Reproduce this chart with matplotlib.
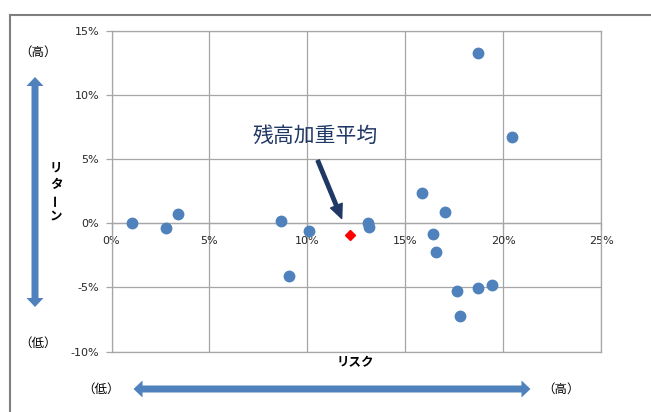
import numpy as np
import matplotlib
matplotlib.use("Agg")
import matplotlib.pyplot as plt
from matplotlib.patches import Polygon, FancyArrowPatch
from matplotlib.lines import Line2D
from matplotlib.ticker import FuncFormatter

plt.rcParams["font.family"] = ["DejaVu Sans", "Noto Sans CJK JP"]

# ---------------------------------------------------------------------
# DATA (%): リスク × リターン
# ---------------------------------------------------------------------
risk = [1.03, 2.78, 3.39, 8.68, 9.06, 10.09, 13.10, 13.15, 15.88,
        16.42, 16.57, 17.03, 17.64, 17.82, 18.70, 18.71, 19.43, 20.47]
ret = [0.00, -0.34, 0.70, 0.18, -4.12, -0.63, 0.00, -0.25, 2.40,
       -0.80, -2.27, 0.88, -5.29, -7.21, -5.03, 13.26, -4.84, 6.72]
avg_risk = [12.17]   # 残高加重平均
avg_ret = [-0.94]

x_ticks = [0, 5, 10, 15, 20, 25]
y_ticks = [-10, -5, 0, 5, 10, 15]

W, H = 651, 412
BLUE = "#4F81BD"
NAVY = "#1F3864"
GRID = "#a6a6a6"


def fp(x, y):
    """pixel (top-left origin) -> figure fraction"""
    return x / W, 1 - y / H


def double_arrow(fig, x0, y0, x1, y1, shaft=7, head_w=17, head_l=9):
    p0, p1 = np.array([x0, y0], float), np.array([x1, y1], float)
    d = (p1 - p0) / np.linalg.norm(p1 - p0)
    n = np.array([-d[1], d[0]])
    a, b = p0 + d * head_l, p1 - d * head_l
    pts = [p0, a + n * head_w / 2, a + n * shaft / 2, b + n * shaft / 2,
           b + n * head_w / 2, p1, b - n * head_w / 2, b - n * shaft / 2,
           a - n * shaft / 2, a - n * head_w / 2]
    pts = [fp(*p) for p in pts]
    fig.add_artist(Polygon(pts, closed=True, transform=fig.transFigure,
                           facecolor=BLUE, edgecolor="none"))


fig = plt.figure(figsize=(W / 100, H / 100), dpi=100)
ax = fig.add_axes([111.5 / W, 60.4 / H, 489.5 / W, 320.6 / H])

ax.plot(risk, ret, ls="none", marker="o", ms=7.5, color=BLUE, mec=BLUE, zorder=3)
ax.plot(avg_risk, avg_ret, ls="none", marker="D", ms=5.2, color="#FF0000",
        mec="#FF0000", zorder=4)

ax.set_xlim(0, 25)
ax.set_ylim(-10, 15)
ax.set_xticks(x_ticks)
ax.set_yticks(y_ticks)
pct = FuncFormatter(lambda v, _: f"{v:.0f}%")
ax.xaxis.set_major_formatter(pct)
ax.yaxis.set_major_formatter(pct)

ax.set_axisbelow(True)
ax.grid(True, color=GRID, lw=0.9)
for s in ax.spines.values():
    s.set_color(GRID)
    s.set_linewidth(0.9)
ax.spines["bottom"].set_position(("data", 0))
# 下枠 (-10%) はスパインを 0% に移したので別に引く
ax.axhline(y_ticks[0], color=GRID, lw=0.9, clip_on=False, zorder=0.5)
ax.tick_params(axis="both", direction="out", length=4, width=0.9, color=GRID,
               labelsize=8, labelcolor="#262626")
ax.tick_params(axis="x", pad=5)
ax.tick_params(axis="y", pad=5)

# 注記: 残高加重平均
jp = ["Noto Sans CJK JP", "DejaVu Sans"]
ax.text(10.38, 6.82, "残高加重平均", ha="center", va="center", fontsize=15,
        color=NAVY, family=jp)
ax.add_patch(FancyArrowPatch((10.48, 5.1), (11.81, 0.18),
                             arrowstyle="simple,head_length=1.0,head_width=0.9,tail_width=0.25",
                             mutation_scale=10, color=NAVY, zorder=5))

# 軸ラベル
fig.text(*fp(355, 363), "リスク", ha="center", va="center", fontsize=9,
         fontweight="bold", family=jp)
for ch, yy in zip("リターン", [168, 184, 200, 216]):
    fig.text(*fp(56, yy), ch, ha="center", va="center", fontsize=9,
             fontweight="bold", family=jp, rotation=90 if ch == "ー" else 0)

fig.text(*fp(38, 52), "（高）", ha="center", va="center", fontsize=9, family=jp)
fig.text(*fp(38, 343), "（低）", ha="center", va="center", fontsize=9, family=jp)
fig.text(*fp(101, 389), "（低）", ha="center", va="center", fontsize=9, family=jp)
fig.text(*fp(561, 389), "（高）", ha="center", va="center", fontsize=9, family=jp)

double_arrow(fig, 35, 77, 35, 307)
double_arrow(fig, 133.5, 389, 530.5, 389)

# 外枠
fig.add_artist(Line2D([10 / W, 10 / W], [0, 1 - 15 / H], transform=fig.transFigure,
                      color="#7f7f7f", lw=1.5))
fig.add_artist(Line2D([10 / W, 1], [1 - 15 / H, 1 - 15 / H], transform=fig.transFigure,
                      color="#7f7f7f", lw=1.5))

fig.savefig("out.png", dpi=100)
